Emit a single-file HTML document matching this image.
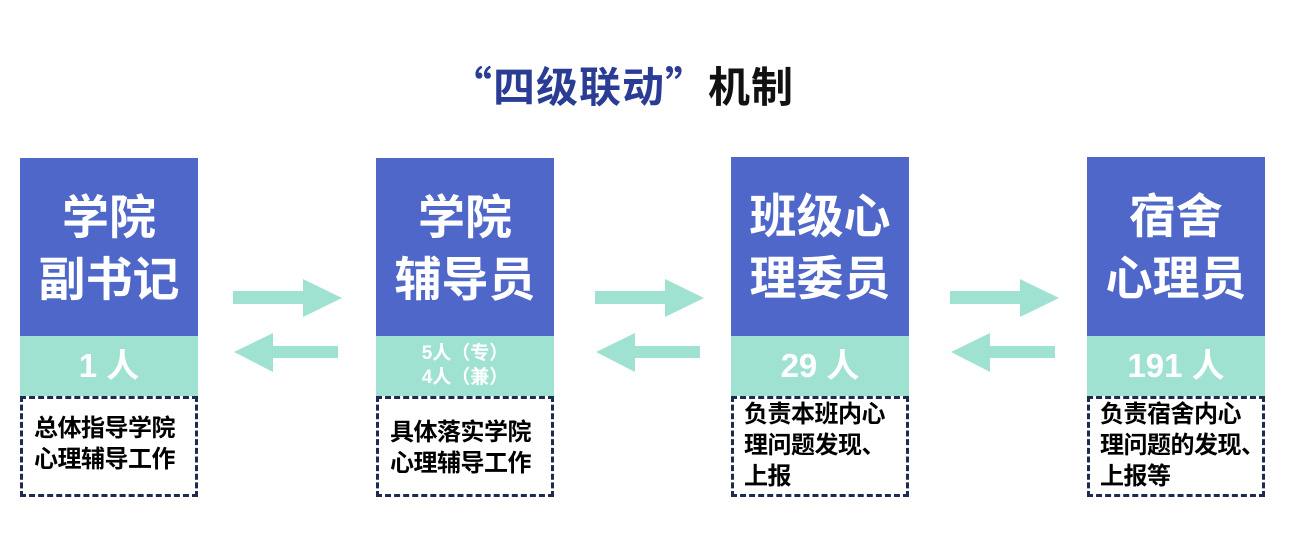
<!DOCTYPE html>
<html><head><meta charset="utf-8"><style>
body{margin:0;width:1304px;height:551px;background:#fff;position:relative;overflow:hidden;font-family:"Liberation Sans","Noto Sans CJK SC",sans-serif;font-weight:bold}
.t{position:absolute;left:-30px;width:1304px;top:58px;text-align:center;font-size:42px;line-height:54px;color:#111;font-family:"Noto Sans CJK SC",sans-serif;letter-spacing:1px}
.t span{color:#2b3c94}
.b{position:absolute;top:158px;width:178px;height:178px;background:#4f67c8;color:#fff;font-size:47px;line-height:62px;text-align:center;box-sizing:border-box;padding-top:29px}
.m{position:absolute;top:336px;width:178px;height:60px;background:#a0e2d2;color:#fff;font-size:33px;line-height:60px;text-align:center}
.m.s{font-size:19px;line-height:24px;padding-top:6px;height:54px}
.d{position:absolute;top:396px;width:178px;height:101px;box-sizing:border-box;border:3px dashed #1f2a4f;color:#000;font-size:24px;line-height:31px;padding:14px 0 0 11px;letter-spacing:-0.5px;white-space:nowrap}
svg{position:absolute;left:0;top:0}
</style></head><body>
<div class="t"><span>“四级联动”</span>机制</div>
<div class="b" style="left:20px">学院<br>副书记</div>
<div class="m" style="left:20px">1 人</div>
<div class="d" style="left:20px;padding-top:14px">总体指导学院<br>心理辅导工作</div>
<div class="b" style="left:376px">学院<br>辅导员</div>
<div class="m s" style="left:376px">5人（专）<br>4人（兼）</div>
<div class="d" style="left:376px;padding-top:18px">具体落实学院<br>心理辅导工作</div>
<div class="b" style="left:731px;top:157px;height:179px">班级心<br>理委员</div>
<div class="m" style="left:731px">29 人</div>
<div class="d" style="left:731px;padding:0 0 0 10px">负责本班内心<br>理问题发现、<br>上报</div>
<div class="b" style="left:1087px;top:157px;height:179px">宿舍<br>心理员</div>
<div class="m" style="left:1087px">191 人</div>
<div class="d" style="left:1087px;padding:0 0 0 10px">负责宿舍内心<br>理问题的发现、<br>上报等</div>
<svg width="1304" height="551" fill="#a0e2d2">
<g id="a">
<polygon points="233,291 303,291 303,279 342,298 303,317 303,304 233,304"/>
<polygon points="338,346 273,346 273,333 234,352 273,372 273,358 338,358"/>
</g>
<use href="#a" x="362" y="0"/>
<use href="#a" x="717" y="0"/>
</svg>
</body></html>
